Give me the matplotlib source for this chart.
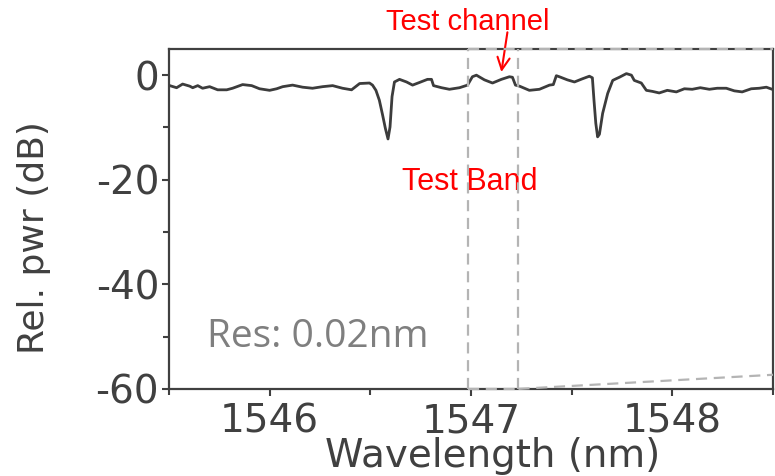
import matplotlib
matplotlib.use('Agg')
import matplotlib.pyplot as plt
from matplotlib.ticker import MultipleLocator

plt.rcParams['axes.unicode_minus'] = False

# spectrum (wavelength in nm, relative power in dB)
wavelength = [
    1545.504, 1545.538, 1545.568, 1545.603, 1545.618, 1545.643, 1545.667, 1545.702,
    1545.742, 1545.787, 1545.816, 1545.866, 1545.911, 1545.950, 1546.000, 1546.035,
    1546.065, 1546.114, 1546.164, 1546.213, 1546.263, 1546.313, 1546.362, 1546.407,
    1546.447, 1546.496, 1546.511, 1546.528, 1546.545, 1546.561, 1546.575, 1546.588,
    1546.598, 1546.608, 1546.620, 1546.645, 1546.680, 1546.710, 1546.744, 1546.784,
    1546.804, 1546.814, 1546.854, 1546.893, 1546.943, 1546.983, 1547.007, 1547.027,
    1547.067, 1547.107, 1547.151, 1547.191, 1547.206, 1547.221, 1547.241, 1547.290,
    1547.340, 1547.390, 1547.409, 1547.424, 1547.439, 1547.479, 1547.514, 1547.553,
    1547.588, 1547.603, 1547.611, 1547.620, 1547.629, 1547.638, 1547.654, 1547.679,
    1547.704, 1547.720, 1547.737, 1547.772, 1547.797, 1547.811, 1547.846, 1547.871,
    1547.901, 1547.935, 1547.975, 1548.020, 1548.060, 1548.099, 1548.139, 1548.184,
    1548.223, 1548.268, 1548.308, 1548.347, 1548.392, 1548.432, 1548.467, 1548.496,
]
power_db = [
    -2.0, -2.4, -1.7, -2.1, -2.4, -2.0, -2.5, -2.2,
    -2.8, -2.8, -2.5, -1.8, -2.0, -2.6, -2.9, -2.6,
    -2.2, -1.9, -2.3, -2.5, -2.2, -2.0, -2.5, -2.8,
    -1.6, -1.5, -1.9, -2.9, -4.8, -7.6, -10.2, -12.2,
    -9.9, -4.1, -1.3, -0.8, -1.3, -1.9, -1.4, -0.8,
    -0.8, -2.0, -2.4, -2.7, -2.4, -1.9, -0.3, 0.0,
    -0.9, -1.5, -0.8, -0.3, -0.4, -1.9, -2.1, -2.9,
    -2.7, -1.9, -1.8, -0.1, -0.3, -0.9, -1.3, -0.7,
    -0.2, -0.5, -4.8, -9.2, -11.8, -11.3, -7.3, -3.5,
    -1.0, -0.7, -0.4, 0.3, 0.0, -1.0, -1.5, -2.9,
    -3.1, -3.4, -2.9, -3.2, -2.6, -2.7, -2.4, -2.7,
    -2.5, -2.5, -3.0, -3.2, -2.6, -2.5, -2.3, -2.7,
]

band_edges = [1546.983, 1547.236]
x_ticks = [1546, 1547, 1548]
y_ticks = [0, -20, -40, -60]
x_limits = (1545.5, 1548.5)
y_limits = (-60, 5)
zoom_right_y = -57.3

dark = '#404040'
grey = '#b4b4b4'

fig = plt.figure(figsize=(7.75, 4.76), dpi=100)
ax = fig.add_axes([0.218, 0.183, 0.7794, 0.714])

ax.plot(wavelength, power_db, color='#3c3c3c', linewidth=2.0, zorder=3)

# test band box and zoom connector lines
dash = dict(color=grey, linewidth=1.6, linestyle=(0, (5, 3)), clip_on=False, zorder=5)
for edge in band_edges:
    ax.plot([edge, edge], y_limits, **dash)
ax.plot([band_edges[0], band_edges[1]], [y_limits[0], y_limits[0]], **dash)
ax.plot([band_edges[1], x_limits[1]], [y_limits[0], zoom_right_y], **dash)
ax.plot([band_edges[0], x_limits[1]], [y_limits[1], y_limits[1]], **dash)

ax.set_xlim(*x_limits)
ax.set_ylim(*y_limits)
ax.set_xticks(x_ticks)
ax.set_yticks(y_ticks)
ax.xaxis.set_minor_locator(MultipleLocator(0.5))
ax.yaxis.set_minor_locator(MultipleLocator(10))

for s in ax.spines.values():
    s.set_color(dark)
    s.set_linewidth(1.6)
ax.tick_params(which='both', direction='out', color=dark, width=1.5)
ax.tick_params(which='major', length=5)
ax.tick_params(which='minor', length=4)
ax.tick_params(axis='x', pad=5)
ax.tick_params(axis='y', pad=2)
for lab in ax.get_xticklabels() + ax.get_yticklabels():
    lab.set_fontfamily('DejaVu Sans')
    lab.set_fontsize(28)
    lab.set_color(dark)

ax.set_xlabel('Wavelength (nm)', fontsize=28, color=dark, family='DejaVu Sans', va='top')
ax.set_ylabel('Rel. pwr (dB)', fontsize=26, color=dark, family='DejaVu Sans')
ax.xaxis.set_label_coords(0.536, -0.142)
ax.yaxis.set_label_coords(-0.195, 0.444)

ax.text(1545.687, -52.0, 'Res: 0.02nm', fontsize=28, color='#7f7f7f',
        family='Open Sans', ha='left', va='baseline')
ax.text(1546.993, -22.0, 'Test Band', fontsize=22, color='red',
        family='Liberation Sans', ha='center', va='baseline')
ax.text(1546.985, 8.6, 'Test channel', fontsize=21, color='red',
        family='Liberation Sans', ha='center', va='baseline', clip_on=False)
ax.annotate('', xy=(1547.151, 0.6), xytext=(1547.181, 8.2),
            arrowprops=dict(arrowstyle='->', color='red', lw=1.5,
                            mutation_scale=22, shrinkA=0, shrinkB=0),
            annotation_clip=False)

fig.savefig('out.png', dpi=100)
